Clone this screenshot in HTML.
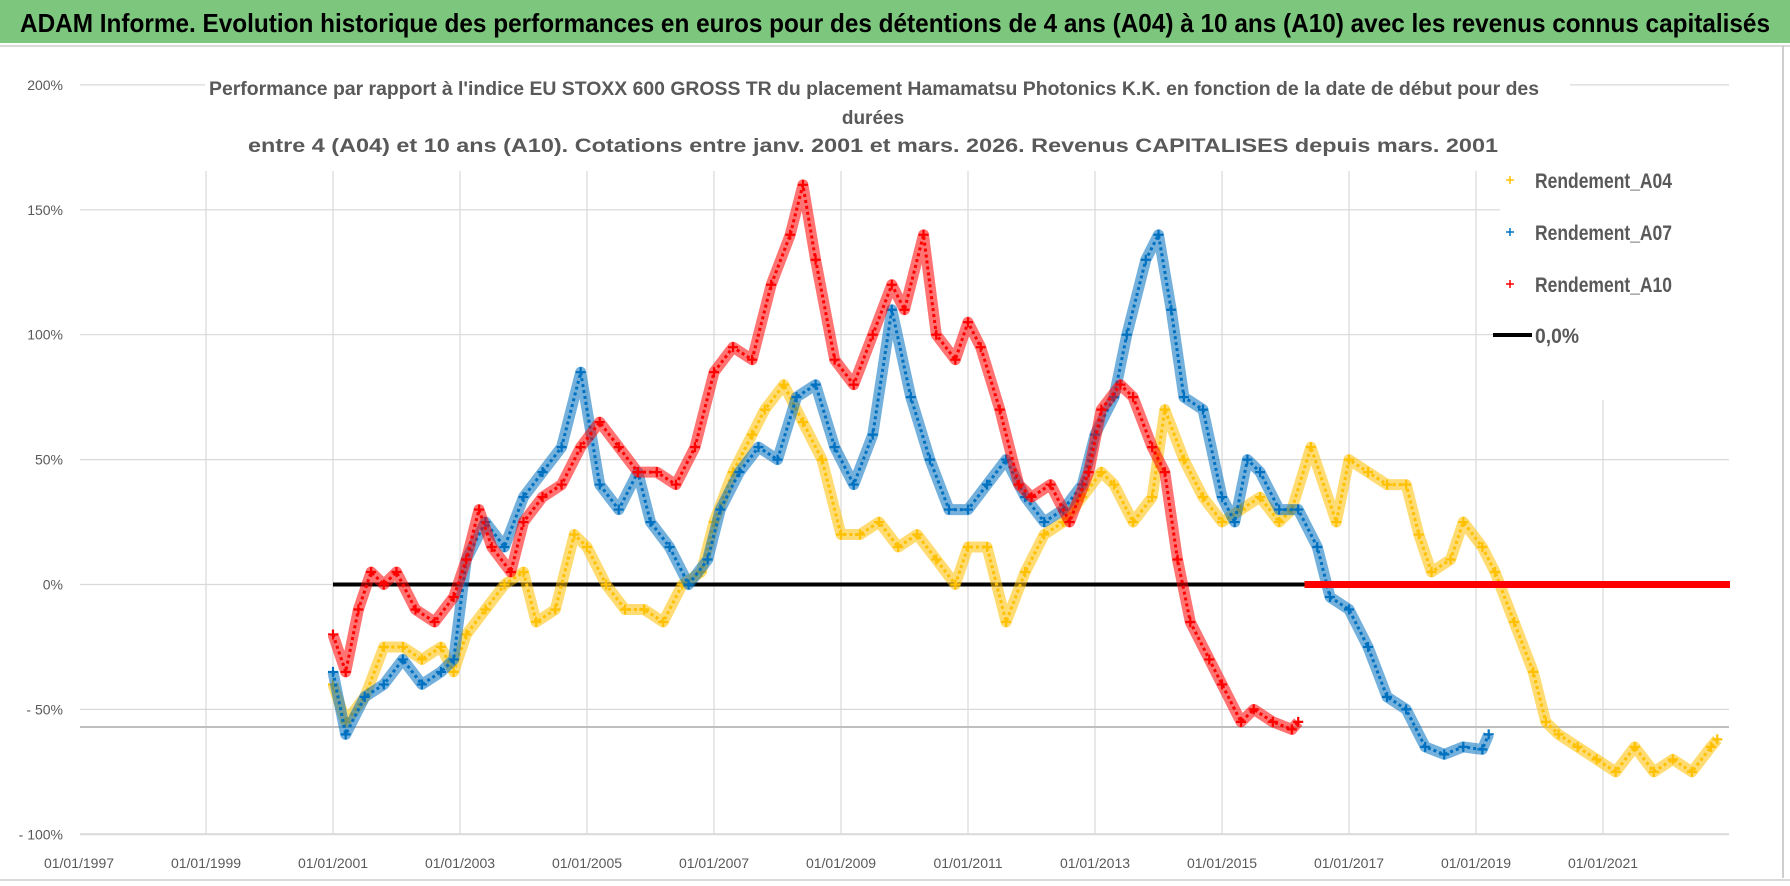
<!DOCTYPE html>
<html><head><meta charset="utf-8"><title>ADAM Informe</title>
<style>
html,body{margin:0;padding:0;background:#fff;}
svg{display:block;font-family:"Liberation Sans",sans-serif;}
</style></head>
<body>
<svg id="chart" width="1790" height="886" viewBox="0 0 1790 886" xmlns="http://www.w3.org/2000/svg">
  <rect x="0" y="0" width="1790" height="886" fill="#fff"/>
  <rect x="0" y="0" width="1790" height="43" fill="#7dc67e"/>
  <text x="20" y="32" font-size="26" font-weight="bold" fill="#000" textLength="1750" lengthAdjust="spacingAndGlyphs">ADAM Informe. Evolution historique des performances en euros pour des détentions de 4 ans (A04) à 10 ans (A10) avec les revenus connus capitalisés</text>
  <line x1="0" y1="46" x2="1790" y2="46" stroke="#d9d9d9" stroke-width="2"/>
  <line x1="1783" y1="46" x2="1783" y2="878" stroke="#bfbfbf" stroke-width="1.5"/>
  <line x1="0" y1="880" x2="1790" y2="880" stroke="#d9d9d9" stroke-width="2"/>
  <g id="grid"></g>
  <g id="yaxis"></g>
  <g id="xaxis"></g>
  <line x1="80" y1="727" x2="1729" y2="727" stroke="#bfbfbf" stroke-width="2"/>
  <g id="series"></g>
  <rect x="205" y="66" width="1365" height="104" fill="#fff"/>
  <rect x="1500" y="165" width="275" height="235" fill="#fff"/>
  <g fill="#595959" font-weight="bold" font-size="19">
    <text x="209" y="95" textLength="1330" lengthAdjust="spacingAndGlyphs">Performance par rapport à l'indice EU STOXX 600 GROSS TR  du placement Hamamatsu Photonics K.K. en fonction de la date de début pour des</text>
    <text x="873" y="124" text-anchor="middle">durées</text>
    <text x="248" y="152" textLength="1250" lengthAdjust="spacingAndGlyphs">entre 4 (A04) et 10 ans (A10). Cotations entre janv. 2001 et mars. 2026. Revenus CAPITALISES depuis mars. 2001</text>
  </g>
  <g font-size="21" font-weight="bold" fill="#595959">
    <g><path d="M1506 180h8M1510 176v8" stroke="#ffc000" stroke-width="1.5"/><text x="1535" y="188" textLength="137" lengthAdjust="spacingAndGlyphs">Rendement_A04</text></g>
    <g><path d="M1506 232h8M1510 228v8" stroke="#0070c0" stroke-width="1.5"/><text x="1535" y="240" textLength="137" lengthAdjust="spacingAndGlyphs">Rendement_A07</text></g>
    <g><path d="M1506 284h8M1510 280v8" stroke="#ff0000" stroke-width="1.5"/><text x="1535" y="292" textLength="137" lengthAdjust="spacingAndGlyphs">Rendement_A10</text></g>
    <g><line x1="1493" y1="335" x2="1532" y2="335" stroke="#000" stroke-width="4"/><text x="1535" y="343" textLength="44" lengthAdjust="spacingAndGlyphs">0,0%</text></g>
  </g>
</svg>
<script>
const yTicks = [200, 150, 100, 50, 0, -50, -100];
const yTickLabels = ["200%", "150%", "100%", "50%", "0%", "- 50%", "- 100%"];
const xTickYears = [1997, 1999, 2001, 2003, 2005, 2007, 2009, 2011, 2013, 2015, 2017, 2019, 2021];
const xTickLabels = ["01/01/1997","01/01/1999","01/01/2001","01/01/2003","01/01/2005","01/01/2007","01/01/2009","01/01/2011","01/01/2013","01/01/2015","01/01/2017","01/01/2019","01/01/2021"];

const a10Dates = [2001.0,2001.2,2001.4,2001.6,2001.8,2002.0,2002.3,2002.6,2002.9,2003.1,2003.3,2003.5,2003.8,2004.0,2004.3,2004.6,2004.9,2005.2,2005.5,2005.8,2006.1,2006.4,2006.7,2007.0,2007.3,2007.6,2007.9,2008.2,2008.4,2008.6,2008.9,2009.2,2009.5,2009.8,2010.0,2010.3,2010.5,2010.8,2011.0,2011.2,2011.5,2011.8,2012.0,2012.3,2012.6,2012.9,2013.1,2013.4,2013.6,2013.9,2014.1,2014.3,2014.5,2014.8,2015.0,2015.3,2015.5,2015.8,2016.1,2016.2];
const a10Values = [-20,-35,-10,5,0,5,-10,-15,-5,10,30,15,5,25,35,40,55,65,55,45,45,40,55,85,95,90,120,140,160,130,90,80,100,120,110,140,100,90,105,95,70,40,35,40,25,45,70,80,75,55,45,10,-15,-30,-40,-55,-50,-55,-58,-55];
const a10ZeroDates = [2016.3, 2023.0];
const a10ZeroValues = [0, 0];

const a07Dates = [2001.0,2001.2,2001.5,2001.8,2002.1,2002.4,2002.7,2002.9,2003.1,2003.4,2003.7,2004.0,2004.3,2004.6,2004.9,2005.2,2005.5,2005.8,2006.0,2006.3,2006.6,2006.9,2007.1,2007.4,2007.7,2008.0,2008.3,2008.6,2008.9,2009.2,2009.5,2009.8,2010.1,2010.4,2010.7,2011.0,2011.3,2011.6,2011.9,2012.2,2012.5,2012.8,2013.0,2013.3,2013.5,2013.8,2014.0,2014.2,2014.4,2014.7,2015.0,2015.2,2015.4,2015.6,2015.9,2016.2,2016.5,2016.7,2017.0,2017.3,2017.6,2017.9,2018.2,2018.5,2018.8,2019.1,2019.2];
const a07Values = [-35,-60,-45,-40,-30,-40,-35,-30,10,25,15,35,45,55,85,40,30,45,25,15,0,10,30,45,55,50,75,80,55,40,60,110,75,50,30,30,40,50,35,25,30,40,60,75,100,130,140,110,75,70,35,25,50,45,30,30,15,-5,-10,-25,-45,-50,-65,-68,-65,-66,-60];

const a04Dates = [2001.0,2001.2,2001.5,2001.8,2002.1,2002.4,2002.7,2002.9,2003.1,2003.4,2003.7,2004.0,2004.2,2004.5,2004.8,2005.0,2005.3,2005.6,2005.9,2006.2,2006.5,2006.8,2007.0,2007.3,2007.6,2007.8,2008.1,2008.4,2008.7,2009.0,2009.3,2009.6,2009.9,2010.2,2010.5,2010.8,2011.0,2011.3,2011.6,2011.9,2012.2,2012.5,2012.8,2013.1,2013.3,2013.6,2013.9,2014.1,2014.4,2014.7,2015.0,2015.3,2015.6,2015.9,2016.1,2016.4,2016.8,2017.0,2017.3,2017.6,2017.9,2018.1,2018.3,2018.6,2018.8,2019.1,2019.3,2019.6,2019.9,2020.1,2020.3,2020.6,2020.9,2021.2,2021.5,2021.8,2022.1,2022.4,2022.7,2022.8];
const a04Values = [-40,-55,-45,-25,-25,-30,-25,-35,-20,-10,0,5,-15,-10,20,15,0,-10,-10,-15,0,5,25,45,60,70,80,65,50,20,20,25,15,20,10,0,15,15,-15,5,20,25,35,45,40,25,35,70,50,35,25,30,35,25,30,55,25,50,45,40,40,20,5,10,25,15,5,-15,-35,-55,-60,-65,-70,-75,-65,-75,-70,-75,-65,-62];

const zeroLineDates = [2001.0, 2023.0];
const zeroLineValues = [0, 0];

const NS = "http://www.w3.org/2000/svg";
function xOf(year){ return 79 + (year - 1997) * 63.5; }
function yOf(v){ return 584.5 - v * 2.498; }
function mk(tag, attrs, parent){ const e = document.createElementNS(NS, tag); for (const k in attrs) e.setAttribute(k, attrs[k]); parent.appendChild(e); return e; }

const grid = document.getElementById('grid');
const yaxis = document.getElementById('yaxis');
const xaxis = document.getElementById('xaxis');
const series = document.getElementById('series');

yTicks.forEach((t, i) => {
  const l = mk('line', {x1: 80, x2: 1729, y1: yOf(t), y2: yOf(t), stroke: '#d9d9d9', 'stroke-width': (t === -100 ? 2 : 1.2)}, grid);
  
  
  const tx = mk('text', {x: 63, y: yOf(t) + 5, 'text-anchor': 'end', 'font-size': 14, fill: '#595959'}, yaxis);
  tx.textContent = yTickLabels[i];
  
  
});
xTickYears.forEach((yr, i) => {
  if (i > 0) {
    const l = mk('line', {x1: xOf(yr), x2: xOf(yr), y1: 171, y2: 834, stroke: '#d9d9d9', 'stroke-width': 1.2}, grid);
    
    
  }
  const tx = mk('text', {x: xOf(yr), y: 868, 'text-anchor': 'middle', 'font-size': 14, fill: '#595959'}, xaxis);
  tx.textContent = xTickLabels[i];
  
  
});

function drawLine(dates, vals, color, width, name){
  const pts = dates.map((d, i) => xOf(d).toFixed(1) + ',' + yOf(vals[i]).toFixed(1)).join(' ');
  const pl = mk('polyline', {points: pts, fill: 'none', stroke: color, 'stroke-width': width, 'stroke-linejoin': 'round'}, series);
  
  
}
function drawScatter(dates, vals, color, name){
  const g = mk('g', {}, series);
  
  
  const pts = dates.map((d, i) => xOf(d).toFixed(1) + ',' + yOf(vals[i]).toFixed(1)).join(' ');
  const band = mk('polyline', {points: pts, fill: 'none', stroke: color, 'stroke-width': 11, 'stroke-linejoin': 'round', opacity: 0.55}, g);
  
  
  const core = mk('polyline', {points: pts, fill: 'none', stroke: color, 'stroke-width': 3, 'stroke-linejoin': 'round', 'stroke-dasharray': '3 3'}, g);
  
  
  dates.forEach((d, i) => {
    const x = xOf(d), y = yOf(vals[i]);
    const p = mk('path', {d: `M${x-5} ${y}h10M${x} ${y-5}v10`, stroke: color, 'stroke-width': 2.2}, g);
    
    
  });
}

drawLine(zeroLineDates, zeroLineValues, '#000', 4, 'zero-line');
drawScatter(a04Dates, a04Values, '#ffc000', 'series-a04');
drawScatter(a07Dates, a07Values, '#0070c0', 'series-a07');
drawScatter(a10Dates, a10Values, '#ff0000', 'series-a10');
drawLine(a10ZeroDates, a10ZeroValues, '#ff0000', 7, 'series-a10-zero-segment');
</script>
</body></html>
